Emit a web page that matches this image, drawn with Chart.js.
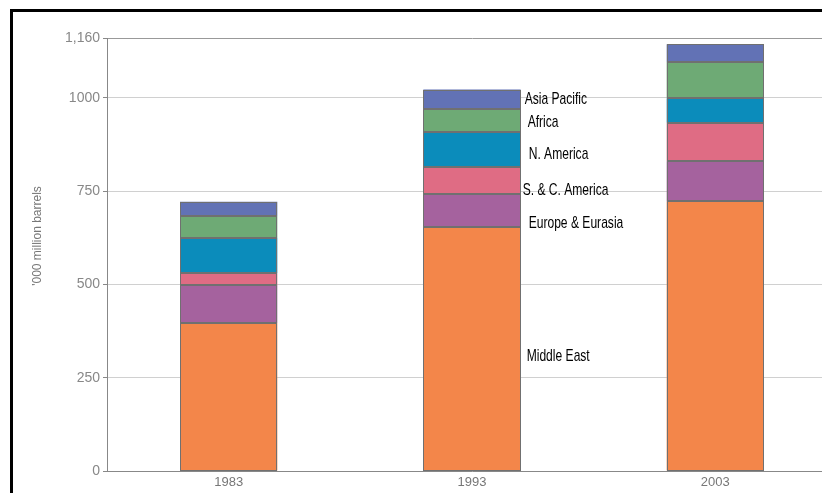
<!DOCTYPE html>
<html>
<head>
<meta charset="utf-8">
<script src="https://cdn.jsdelivr.net/npm/chart.js@4.4.1/dist/chart.umd.min.js"></script>
<style>
  html, body { margin: 0; padding: 0; background: #fff; overflow: hidden; }
  #wrap { width: 822px; height: 493px; overflow: hidden; }
  canvas { display: block; }
</style>
</head>
<body>
<div id="wrap">
  <canvas id="chart" width="837" height="493"></canvas>
</div>
<script>
// years on the x axis
const years = ['1983', '1993', '2003'];

// reserves by region, '000 million barrels
const middleEast = [396, 654, 722];
const europeEurasia = [102, 88, 108];
const scAmerica = [32, 73, 103];
const nAmerica = [95, 92, 65];
const africa = [58, 62, 98];
const asiaPacific = [38, 53, 47];

const yTicks = [0, 250, 500, 750, 1000, 1160];

// where the region names sit (axis value), beside the 1993 bar
const regionNames = ['Asia Pacific', 'Africa', 'N. America', 'S. & C. America', 'Europe & Eurasia', 'Middle East'];
const regionNameValues = [995, 935, 849, 753, 664, 308];

function series(label, data, color) {
    return {
        label: label,
        data: data,
        backgroundColor: color,
        borderWidth: 0,
        inflateAmount: 0,
        categoryPercentage: 1,
        barPercentage: 0.4
    };
}

// thin grey outline round every segment, snapped to whole pixels
const outlines = {
    id: 'outlines',
    afterDatasetsDraw(chart) {
        const ctx = chart.ctx;
        ctx.save();
        ctx.strokeStyle = '#707070';
        ctx.lineWidth = 1;
        chart.data.datasets.forEach((ds, i) => {
            chart.getDatasetMeta(i).data.forEach(bar => {
                const l = Math.round(bar.x - bar.width / 2);
                const r = Math.round(bar.x + bar.width / 2);
                const t = Math.round(bar.y);
                const b = Math.round(bar.base);
                ctx.strokeRect(l + 0.5, t + 0.5, r - l - 1, b - t - 1);
            });
        });
        ctx.restore();
    }
};

// black frame along the top and left of the picture
const frame = {
    id: 'frame',
    afterDraw(chart) {
        const ctx = chart.ctx;
        ctx.save();
        ctx.fillStyle = '#000';
        ctx.fillRect(10, 9, 3, chart.height);
        ctx.fillRect(10, 9, chart.width, 3);
        ctx.restore();
    }
};

const regionLabels = {
    id: 'regionLabels',
    afterDatasetsDraw(chart) {
        const ctx = chart.ctx;
        const y = chart.scales.y;
        const bar = chart.getDatasetMeta(0).data[1];
        const right = bar.x + bar.width / 2;
        const nudge = [4, 7, 8, 2, 8, 6];
        ctx.save();
        ctx.fillStyle = '#000';
        ctx.font = '17px "Liberation Sans", Arial, sans-serif';
        ctx.textBaseline = 'middle';
        ctx.textAlign = 'left';
        regionNames.forEach((name, i) => {
            ctx.save();
            ctx.translate(right + nudge[i], y.getPixelForValue(regionNameValues[i]));
            ctx.scale(0.71, 1);
            ctx.fillText(name, 0, 0);
            ctx.restore();
        });

        // y axis title
        ctx.translate(38, 236);
        ctx.rotate(-Math.PI / 2);
        ctx.fillStyle = '#777';
        ctx.font = '12px "Liberation Sans", Arial, sans-serif';
        ctx.textAlign = 'center';
        ctx.fillText("'000 million barrels", 0, 0);
        ctx.restore();
    }
};

new Chart(document.getElementById('chart'), {
    type: 'bar',
    data: {
        labels: years,
        datasets: [
            series('Middle East', middleEast, '#F3864A'),
            series('Europe & Eurasia', europeEurasia, '#A5629E'),
            series('S. & C. America', scAmerica, '#DF6C84'),
            series('N. America', nAmerica, '#0B8CBB'),
            series('Africa', africa, '#6EAA75'),
            series('Asia Pacific', asiaPacific, '#6272B5')
        ]
    },
    options: {
        responsive: false,
        animation: false,
        devicePixelRatio: 1,
        layout: { padding: { left: 12, top: 38, right: 0, bottom: 0 } },
        plugins: {
            legend: { display: false },
            tooltip: { enabled: false }
        },
        scales: {
            x: {
                stacked: true,
                grid: { display: false, drawTicks: false },
                border: { color: '#888', width: 1 },
                ticks: {
                    color: '#777',
                    font: { family: '"Liberation Sans", Arial, sans-serif', size: 13 },
                    padding: 4
                },
                afterFit(scale) { scale.height = 22; }
            },
            y: {
                stacked: true,
                min: 0,
                max: 1160,
                afterBuildTicks(scale) {
                    scale.ticks = yTicks.map(v => ({ value: v }));
                },
                grid: {
                    color: c => (c.tick && c.tick.value === 1160) ? '#999' : '#d0d0d0',
                    tickColor: '#888',
                    tickLength: 4
                },
                border: { color: '#888', width: 1 },
                ticks: {
                    color: '#888',
                    font: { family: '"Liberation Sans", Arial, sans-serif', size: 14 },
                    padding: 3,
                    callback: v => v === 1160 ? '1,160' : String(v)
                },
                afterFit(scale) { scale.width = 95; }
            }
        }
    },
    plugins: [outlines, regionLabels, frame]
});
</script>
</body>
</html>
